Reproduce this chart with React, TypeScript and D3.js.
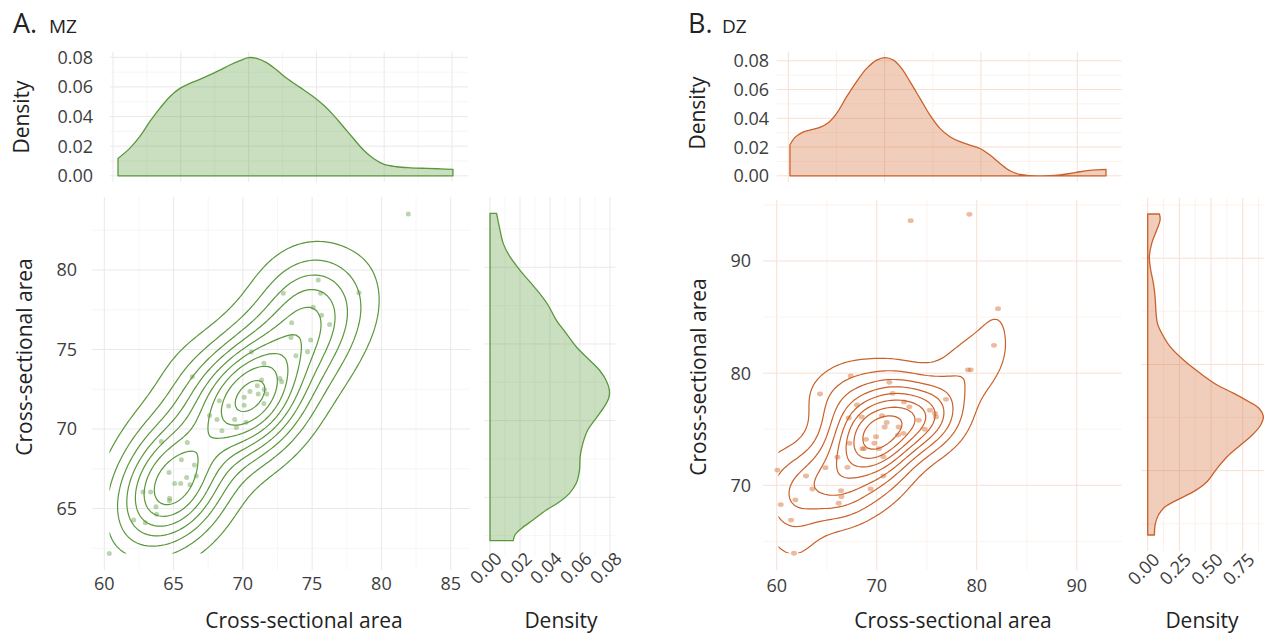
import React from 'react';
import * as d3 from 'd3';

const FONT = '"Open Sans", "DejaVu Sans", sans-serif';

// ---- MZ pairs (twin 1 vs twin 2 cross-sectional area) ----
const mzX = [81.94, 75.44, 72.92, 75.61, 78.38, 75.08, 75.68, 76.26, 73.52, 73.47, 74.89, 73.83, 74.67, 70.61, 71.52, 71.35, 72.68, 72.8, 70.51, 71.04, 71.55, 71.72, 71.11, 70.1, 71.52, 70.1, 68.3, 68.97, 66.35, 67.6, 68.13, 68.49, 69.41, 69.53, 70.23, 64.11, 65.99, 64.67, 65.56, 66.5, 66.64, 65.94, 65.08, 65.51, 66.18, 62.79, 63.34, 64.71, 64.71, 63.73, 63.77, 62.12, 62.96, 60.36];
const mzY = [83.52, 79.37, 78.53, 78.53, 78.57, 77.65, 77.15, 76.58, 76.69, 75.76, 75.59, 74.61, 74.86, 74.84, 74.13, 73.08, 73.18, 72.97, 72.36, 72.72, 72.49, 72.2, 72.2, 71.99, 71.61, 71.5, 71.78, 71.44, 73.29, 70.85, 70.6, 69.89, 70.6, 70.1, 70.43, 69.22, 69.15, 67.27, 68.06, 67.73, 67.04, 66.95, 66.57, 66.57, 66.49, 66.03, 66.03, 65.65, 65.48, 65.11, 64.64, 64.27, 64.1, 62.17];

// marginal densities
const mzTopX = [60.37, 61.23, 61.97, 62.71, 63.45, 64.19, 64.93, 65.67, 66.4, 67.14, 67.88, 68.62, 69.36, 69.98, 70.59, 71.33, 72.07, 72.81, 73.79, 74.78, 75.52, 76.26, 76.99, 77.73, 78.47, 79.21, 79.95, 80.94, 81.92, 83.15, 84.14, 85.07];
const mzTopD = [0.0117, 0.0185, 0.0264, 0.0365, 0.0455, 0.0534, 0.059, 0.0624, 0.0651, 0.0681, 0.0714, 0.0748, 0.0777, 0.0798, 0.0793, 0.0764, 0.0714, 0.0658, 0.0597, 0.0534, 0.0478, 0.041, 0.0331, 0.0252, 0.0174, 0.0117, 0.0079, 0.0061, 0.0054, 0.005, 0.0047, 0.0043];
const mzSideY = [83.52, 82.65, 81.56, 80.69, 79.82, 79.06, 78.3, 77.54, 76.56, 75.69, 74.82, 73.95, 73.3, 72.65, 71.99, 71.45, 70.91, 70.15, 69.39, 68.52, 67.65, 66.78, 65.91, 65.26, 64.71, 64.17, 63.52, 62.97, 62.54, 62.17];
const mzSideD = [0.0044, 0.0062, 0.0088, 0.0133, 0.0199, 0.0265, 0.0331, 0.0387, 0.0442, 0.0508, 0.0575, 0.0663, 0.0729, 0.0773, 0.0796, 0.0791, 0.0762, 0.0707, 0.0652, 0.0619, 0.0601, 0.0597, 0.0575, 0.053, 0.0464, 0.0376, 0.0287, 0.021, 0.0166, 0.0155];

// ---- DZ pairs ----
const dzX = [73.4, 79.27, 82.13, 81.73, 79.13, 79.4, 67.4, 71.27, 64.33, 71.6, 76.93, 68.03, 72.73, 73.27, 68.5, 67.2, 70.53, 71.0, 70.8, 72.2, 75.33, 75.83, 75.93, 74.2, 74.8, 72.13, 72.67, 68.93, 69.93, 67.27, 69.77, 68.57, 68.73, 70.23, 66.07, 67.07, 70.67, 64.87, 70.67, 62.93, 60.07, 63.57, 69.4, 66.43, 66.47, 66.2, 61.87, 60.4, 61.43, 61.73];
const dzY = [93.6, 94.16, 85.75, 82.48, 80.3, 80.3, 79.75, 79.18, 78.14, 78.2, 77.67, 77.16, 77.43, 77.0, 76.1, 76.0, 76.2, 75.6, 75.2, 75.2, 76.7, 76.4, 76.1, 75.8, 75.0, 74.48, 74.63, 74.1, 74.34, 73.75, 73.75, 73.27, 73.27, 73.27, 72.5, 71.6, 72.55, 71.57, 70.83, 70.83, 71.36, 69.67, 69.67, 69.52, 68.99, 68.4, 68.7, 68.28, 66.9, 63.94];

const dzTopX = [60.17, 60.69, 61.38, 62.25, 63.29, 64.15, 65.02, 66.06, 67.09, 68.13, 69.17, 70.03, 70.9, 71.76, 72.63, 73.67, 74.71, 75.74, 76.78, 77.82, 78.86, 79.9, 80.93, 81.97, 83.01, 84.05, 85.09, 86.12, 87.16, 88.2, 89.24, 90.28, 91.31, 92.98];
const dzTopD = [0.0214, 0.0267, 0.0299, 0.0318, 0.0337, 0.0369, 0.0434, 0.055, 0.0655, 0.0747, 0.0805, 0.0822, 0.0805, 0.0747, 0.0655, 0.0539, 0.0422, 0.033, 0.0272, 0.0237, 0.0214, 0.019, 0.0144, 0.0086, 0.0035, 0.0009, 0.0001, 0.0, 0.0001, 0.0007, 0.0016, 0.0028, 0.0037, 0.0044];
const dzSideY = [94.16, 93.6, 92.65, 91.4, 90.14, 88.89, 87.63, 86.37, 84.81, 83.87, 82.93, 81.67, 80.41, 79.16, 78.06, 77.28, 76.49, 75.87, 75.08, 74.3, 73.35, 72.41, 71.31, 70.22, 68.96, 68.02, 67.23, 66.6, 65.82, 64.88, 63.94];
const dzSideD = [0.0926, 0.0979, 0.0714, 0.0317, 0.0132, 0.0238, 0.045, 0.0582, 0.0661, 0.0767, 0.111, 0.177, 0.283, 0.415, 0.548, 0.68, 0.799, 0.878, 0.913, 0.892, 0.825, 0.733, 0.627, 0.548, 0.468, 0.362, 0.23, 0.138, 0.0847, 0.0582, 0.0529];

// ---- ticks and grid breaks ----
const topDensityTicks = [0, 0.02, 0.04, 0.06, 0.08];
const topDensityGrid = [0, 0.01, 0.02, 0.03, 0.04, 0.05, 0.06, 0.07, 0.08];
const mzXTicks = [60, 65, 70, 75, 80, 85];
const mzXGrid = [60, 62.5, 65, 67.5, 70, 72.5, 75, 77.5, 80, 82.5, 85];
const mzYTicks = [65, 70, 75, 80];
const mzYGrid = [62.5, 65, 67.5, 70, 72.5, 75, 77.5, 80, 82.5];
const mzSideTicks = [0, 0.02, 0.04, 0.06, 0.08];
const mzSideGrid = [0, 0.01, 0.02, 0.03, 0.04, 0.05, 0.06, 0.07, 0.08];
const dzXTicks = [60, 70, 80, 90];
const dzXGrid = [60, 65, 70, 75, 80, 85, 90];
const dzYTicks = [70, 80, 90];
const dzYGrid = [65, 70, 75, 80, 85, 90, 95];
const dzSideTicks = [0, 0.25, 0.5, 0.75];
const dzSideGrid = [0, 0.125, 0.25, 0.375, 0.5, 0.625, 0.75, 0.875];

// MASS::bandwidth.nrd
function bandwidthNrd(v: number[]) {
  const s = v.slice().sort(d3.ascending);
  const iqr = (d3.quantileSorted(s, 0.75) as number) - (d3.quantileSorted(s, 0.25) as number);
  return 4 * 1.06 * Math.min(d3.deviation(v) as number, iqr / 1.34) * Math.pow(v.length, -0.2);
}

// kde2d over the scale limits, contour lines at pretty breaks (like geom_density_2d)
function density2d(xs: number[], ys: number[], xlim: [number, number], n = 100) {
  const [x0, x1] = xlim;
  const [y0, y1] = d3.extent(ys) as [number, number];
  const hx = bandwidthNrd(xs) / 4;
  const hy = bandwidthNrd(ys) / 4;
  const dx = (x1 - x0) / (n - 1);
  const dy = (y1 - y0) / (n - 1);
  const norm = 1 / (xs.length * hx * hy * 2 * Math.PI);
  const values = new Array(n * n).fill(0);
  for (let j = 0; j < n; j++) {
    const gy = y0 + j * dy;
    for (let i = 0; i < n; i++) {
      const gx = x0 + i * dx;
      let s = 0;
      for (let k = 0; k < xs.length; k++) {
        const a = (gx - xs[k]) / hx;
        const b = (gy - ys[k]) / hy;
        s += Math.exp(-0.5 * (a * a + b * b));
      }
      values[j * n + i] = s * norm;
    }
  }
  const zmin = d3.min(values) as number;
  const zmax = d3.max(values) as number;
  const thresholds = d3.ticks(0, zmax, 10).filter(t => t > zmin && t < zmax);
  const contours = d3.contours().size([n, n]).thresholds(thresholds)(values);
  return { contours, x0, x1, y0, y1, dx, dy };
}

function gridLines(vals: number[], majorTest: (v: number) => boolean, pos: (v: number) => number, from: number, to: number, vertical: boolean, major: string, minor: string) {
  return vals.map((v, i) => {
    const p = pos(v);
    const isMajor = majorTest(v);
    return vertical
      ? <line key={i} x1={p} x2={p} y1={from} y2={to} stroke={isMajor ? major : minor} strokeWidth={isMajor ? 1 : 0.7} />
      : <line key={i} y1={p} y2={p} x1={from} x2={to} stroke={isMajor ? major : minor} strokeWidth={isMajor ? 1 : 0.7} />;
  });
}

const near = (v: number, step: number) => Math.abs(v / step - Math.round(v / step)) < 1e-6;

function Twin({ p }: { p: any }) {
  // top marginal
  const tx = d3.scaleLinear().domain(p.top.xd).range(p.top.xr);
  const tMax = d3.max(p.topD as number[]) as number;
  const ty = d3.scaleLinear().domain([-0.05 * tMax, 1.05 * tMax]).range([p.top.y[1], p.top.y[0]]);
  const topArea = d3.area<number>()
    .x((_, i) => tx(p.topX[i]))
    .y0(ty(0))
    .y1(d => ty(d))
    .curve(d3.curveCatmullRom)(p.topD) as string;

  // main scatter
  const mx = d3.scaleLinear().domain(p.main.xd).range(p.main.xr);
  const my = d3.scaleLinear().domain(p.main.yd).range(p.main.yr);
  const dens = density2d(p.x, p.y, d3.extent(p.topX as number[]) as [number, number]);
  const cpath = (mp: any) => mp.coordinates.map((poly: any) => poly.map((ring: any) =>
    'M' + ring.map(([cx, cy]: number[]) =>
      `${mx(dens.x0 + (cx - 0.5) * dens.dx).toFixed(2)},${my(dens.y0 + (cy - 0.5) * dens.dy).toFixed(2)}`).join('L') + 'Z').join('')).join('');

  // side marginal
  const sx = d3.scaleLinear().domain(p.side.xd).range(p.side.xr);
  const sy = d3.scaleLinear().domain(d3.extent(p.sideY as number[]) as [number, number]).range(p.side.yr);
  const sideArea = d3.area<number>()
    .y((_, i) => sy(p.sideY[i]))
    .x0(sx(0))
    .x1(d => sx(d))
    .curve(d3.curveCatmullRom)(p.sideD) as string;

  const clipId = `clip-${p.id}`;
  const tick = { fontFamily: FONT, fontSize: 18, fill: '#3d3d3d' };
  const ttl = { fontFamily: FONT, fontSize: 21, fill: '#222' };

  return (
    <g>
      <text x={p.titleX} y={33} fontFamily={FONT} fontSize={27} fill="#222">{p.title}</text>
      <text x={p.subX} y={33} fontFamily={FONT} fontSize={19} fill="#222">{p.sub}</text>

      {/* top density */}
      {gridLines(p.top.grid, v => near(v, p.top.majorStep), tx, p.top.y[0], p.top.y[1], true, p.gridMajor, p.gridMinor)}
      {gridLines(topDensityGrid, v => near(v, 0.02), ty, p.top.px[0], p.top.px[1], false, p.gridMajor, p.gridMinor)}
      <path d={topArea + 'Z'} fill={p.fill} stroke={p.color} strokeWidth={1.3} strokeLinejoin="round" />
      {topDensityTicks.map(t => (
        <text key={t} x={p.top.labelX} y={ty(t)} dy="0.36em" textAnchor="end" {...tick}>{t.toFixed(2)}</text>
      ))}
      <text transform={`translate(${p.top.titleX},${p.top.titleY}) rotate(-90)`} textAnchor="middle" {...ttl}>Density</text>

      {/* main panel */}
      {gridLines(p.main.gridX, v => near(v, p.main.majorX), mx, p.main.py[0], p.main.py[1], true, p.gridMajor, p.gridMinor)}
      {gridLines(p.main.gridY, v => near(v, p.main.majorY), my, p.main.px[0], p.main.px[1], false, p.gridMajor, p.gridMinor)}
      <defs>
        <clipPath id={clipId}>
          <rect x={mx(dens.x0)} y={my(dens.y1)} width={mx(dens.x1) - mx(dens.x0)} height={my(dens.y0) - my(dens.y1)} />
        </clipPath>
      </defs>
      {(p.x as number[]).map((xv, i) => (
        <ellipse key={i} cx={mx(xv)} cy={my(p.y[i])} rx={p.pr[0]} ry={p.pr[1]} fill={p.point} />
      ))}
      <g clipPath={`url(#${clipId})`}>
        {dens.contours.map((c, i) => (
          <path key={i} d={cpath(c)} fill="none" stroke={p.color} strokeWidth={1.2} />
        ))}
      </g>
      {p.main.xTicks.map((t: number) => (
        <text key={t} x={mx(t)} y={p.main.labelY} textAnchor="middle" {...tick}>{t}</text>
      ))}
      {p.main.yTicks.map((t: number) => (
        <text key={t} x={p.main.labelX} y={my(t)} dy="0.36em" textAnchor="end" {...tick}>{t}</text>
      ))}
      <text x={p.main.titleX} y={628} textAnchor="middle" {...ttl}>Cross-sectional area</text>
      <text transform={`translate(${p.main.ytitleX},${p.main.ytitleY}) rotate(-90)`} textAnchor="middle" {...ttl}>Cross-sectional area</text>

      {/* side density */}
      {gridLines(p.side.gridX, v => near(v, p.side.majorX), sx, p.side.py[0], p.side.py[1], true, p.gridMajor, p.gridMinor)}
      {gridLines(p.side.gridY, v => near(v, p.side.majorY), sy, p.side.px[0], p.side.px[1], false, p.gridMajor, p.gridMinor)}
      <path d={sideArea + 'Z'} fill={p.fill} stroke={p.color} strokeWidth={1.3} strokeLinejoin="round" />
      {p.side.ticks.map((t: number) => (
        <text key={t} transform={`translate(${sx(t) + 4},${p.side.labelY}) rotate(-45)`} dy="0.71em" textAnchor="end" {...tick}>{t.toFixed(2)}</text>
      ))}
      <text x={p.side.titleX} y={628} textAnchor="middle" {...ttl}>Density</text>
    </g>
  );
}

const mzPanel = {
  id: 'mz', title: 'A.', sub: 'MZ', titleX: 13, subX: 49,
  color: '#5a983c', fill: 'rgba(90,152,60,0.32)', point: 'rgba(90,152,60,0.42)', pr: [2.5, 2.5],
  gridMajor: '#e9e9e9', gridMinor: '#f2f2f2',
  x: mzX, y: mzY, topX: mzTopX, topD: mzTopD, sideY: mzSideY, sideD: mzSideD,
  top: { xd: [60, 85], xr: [113, 452], y: [51.7, 181.7], px: [110, 468], grid: mzXGrid, majorStep: 5, labelX: 93, titleX: 29, titleY: 117 },
  main: { xd: [60, 85], xr: [104.3, 450.7], yd: [65, 80], yr: [508.5, 270], px: [92, 470], py: [197, 570],
    gridX: mzXGrid, gridY: mzYGrid, majorX: 5, majorY: 5, xTicks: mzXTicks, yTicks: mzYTicks,
    labelY: 590, labelX: 77, titleX: 304, ytitleX: 32, ytitleY: 357 },
  side: { xd: [0, 0.08], xr: [490, 610], yr: [540.7, 213.3], px: [484, 615.4], py: [197, 557],
    gridX: mzSideGrid, gridY: mzYGrid, majorX: 0.02, majorY: 5, ticks: mzSideTicks, labelY: 551, titleX: 561 },
};

const dzPanel = {
  id: 'dz', title: 'B.', sub: 'DZ', titleX: 688, subX: 722,
  color: '#c9612b', fill: 'rgba(214,110,55,0.34)', point: 'rgba(214,110,55,0.48)', pr: [3, 2.4],
  gridMajor: '#f6e0d3', gridMinor: '#faece4',
  x: dzX, y: dzY, topX: dzTopX, topD: dzTopD, sideY: dzSideY, sideD: dzSideD,
  top: { xd: [60, 90], xr: [788.3, 1077.3], y: [51.7, 181.7], px: [776.7, 1121.7], grid: dzXGrid, majorStep: 10, labelX: 769, titleX: 705, titleY: 113 },
  main: { xd: [60, 90], xr: [776.7, 1076.7], yd: [70, 90], yr: [485.3, 261], px: [763, 1121.7], py: [200, 570],
    gridX: dzXGrid, gridY: dzYGrid, majorX: 10, majorY: 10, xTicks: dzXTicks, yTicks: dzYTicks,
    labelY: 592, labelX: 751, titleX: 953, ytitleX: 706, ytitleY: 377 },
  side: { xd: [0, 0.75], xr: [1147.7, 1242.7], yr: [535, 214], px: [1141.9, 1268.5], py: [198, 551],
    gridX: dzSideGrid, gridY: dzYGrid, majorX: 0.25, majorY: 10, ticks: dzSideTicks, labelY: 552, titleX: 1202 },
};

export default function App() {
  return (
    <svg width={1264} height={635} style={{ position: 'absolute', left: 0, top: 0, background: '#fff' }}>
      <Twin p={mzPanel} />
      <Twin p={dzPanel} />
    </svg>
  );
}
